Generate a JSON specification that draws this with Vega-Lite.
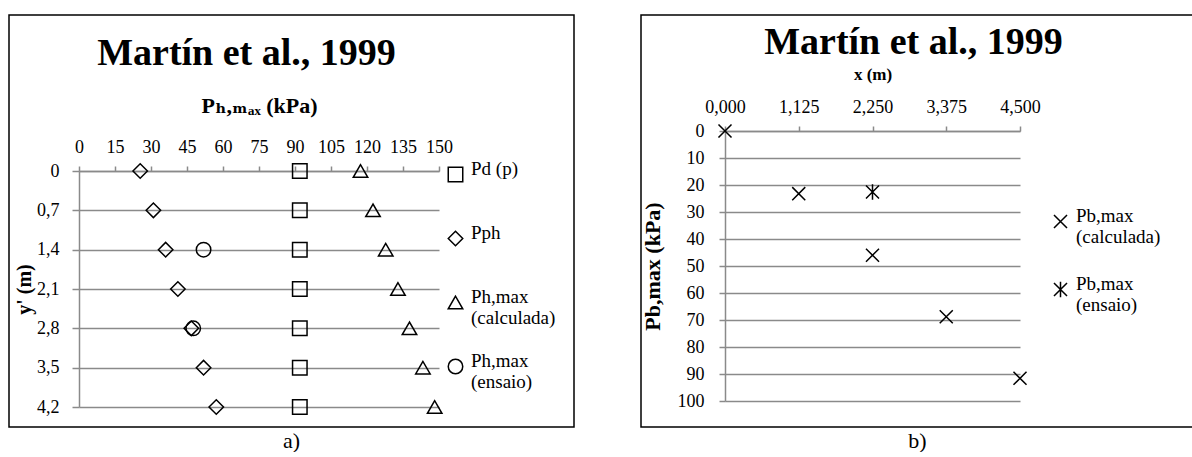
{
  "$schema": "https://vega.github.io/schema/vega-lite/v6.json",
  "background": "white",
  "padding": {"left": 8, "top": 14, "right": 0, "bottom": 0},
  "spacing": 65,
  "resolve": {"scale": {"shape": "independent"}, "legend": {"shape": "independent"}},
  "config": {
    "font": "'Liberation Serif', 'DejaVu Serif', serif",
    "view": {"stroke": "#000000", "strokeWidth": 1.5},
    "axis": {
      "labelFont": "'Liberation Serif', 'DejaVu Serif', serif",
      "titleFont": "'Liberation Serif', 'DejaVu Serif', serif",
      "labelColor": "#000000", "titleColor": "#000000",
      "domainColor": "#8a8a8a", "tickColor": "#8a8a8a", "gridColor": "#8a8a8a",
      "domainWidth": 1.5, "tickWidth": 1.5, "gridWidth": 1.5,
      "labelFontSize": 18, "labelOverlap": false, "labelFlush": false, "labelBound": false
    },
    "legend": {"labelFont": "'Liberation Serif', 'DejaVu Serif', serif", "labelFontSize": 19, "labelColor": "#000000", "padding": 0},
    "title": {"font": "'Liberation Serif', 'DejaVu Serif', serif", "color": "#000000"}
  },
  "hconcat": [
    {
      "title": {"text": "a)", "orient": "bottom", "anchor": "middle", "fontSize": 22, "fontWeight": "normal", "offset": 3},
      "vconcat": [
        {
          "width": 565,
          "height": 412,
          "title": {"text": "Martín et al., 1999", "fontSize": 38, "fontWeight": "bold", "anchor": "middle", "frame": "group", "offset": -58, "dx": -45},
          "data": {"values": [
            {"y": 0, "v": 92, "s": "Pd (p)"},
            {"y": 0.7, "v": 92, "s": "Pd (p)"},
            {"y": 1.4, "v": 92, "s": "Pd (p)"},
            {"y": 2.1, "v": 92, "s": "Pd (p)"},
            {"y": 2.8, "v": 92, "s": "Pd (p)"},
            {"y": 3.5, "v": 92, "s": "Pd (p)"},
            {"y": 4.2, "v": 92, "s": "Pd (p)"},
            {"y": 0, "v": 25.5, "s": "Pph"},
            {"y": 0.7, "v": 31, "s": "Pph"},
            {"y": 1.4, "v": 36.1, "s": "Pph"},
            {"y": 2.1, "v": 41.2, "s": "Pph"},
            {"y": 2.8, "v": 46.8, "s": "Pph"},
            {"y": 3.5, "v": 51.9, "s": "Pph"},
            {"y": 4.2, "v": 57.2, "s": "Pph"},
            {"y": 0, "v": 117.3, "s": "Ph,max|(calculada)"},
            {"y": 0.7, "v": 122.5, "s": "Ph,max|(calculada)"},
            {"y": 1.4, "v": 127.8, "s": "Ph,max|(calculada)"},
            {"y": 2.1, "v": 132.9, "s": "Ph,max|(calculada)"},
            {"y": 2.8, "v": 137.7, "s": "Ph,max|(calculada)"},
            {"y": 3.5, "v": 143.3, "s": "Ph,max|(calculada)"},
            {"y": 4.2, "v": 148.2, "s": "Ph,max|(calculada)"},
            {"y": 1.4, "v": 51.9, "s": "Ph,max|(ensaio)"},
            {"y": 2.8, "v": 47.6, "s": "Ph,max|(ensaio)"}
          ]},
          "mark": {"type": "point", "filled": false, "stroke": "#000000", "strokeWidth": 1.5, "opacity": 1, "size": 210},
          "encoding": {
            "x": {
              "field": "v", "type": "quantitative",
              "scale": {"domain": [0, 150], "range": [70, 430], "nice": false, "zero": false},
              "axis": {
                "orient": "top", "offset": -156, "values": [0, 15, 30, 45, 60, 75, 90, 105, 120, 135, 150],
                "format": "d", "grid": false, "tickSize": 5, "labelPadding": 10,
                "title": "Pₕ,ₘₐₓ (kPa)", "titleFontSize": 22, "titleFontWeight": "bold", "titlePadding": 21
              }
            },
            "y": {
              "field": "y", "type": "quantitative",
              "scale": {"domain": [0, 4.2], "range": [156, 392], "nice": false, "zero": false},
              "axis": {
                "orient": "left", "offset": -70, "values": [0, 0.7, 1.4, 2.1, 2.8, 3.5, 4.2],
                "labelExpr": "replace(format(datum.value, '.1~f'), '.', ',')",
                "grid": true, "tickSize": 7, "labelPadding": 13,
                "title": "y' (m)", "titleFontSize": 20, "titleFontWeight": "bold", "titlePadding": 2
              }
            },
            "shape": {
              "field": "s", "type": "nominal",
              "scale": {
                "domain": ["Pd (p)", "Pph", "Ph,max|(calculada)", "Ph,max|(ensaio)"],
                "range": ["square", "diamond", "triangle-up", "circle"]
              },
              "legend": {
                "orient": "none", "legendX": 437, "legendY": 150, "title": null,
                "labelExpr": "split(datum.label, '|')",
                "symbolSize": 210, "symbolStrokeColor": "#000000", "symbolFillColor": "transparent",
                "symbolStrokeWidth": 1.5, "gridAlign": "all", "rowPadding": 23,
                "labelOffset": 6, "labelBaseline": "alphabetic", "labelLimit": 200
              }
            }
          }
        }
      ]
    },
    {
      "title": {"text": "b)", "orient": "bottom", "anchor": "middle", "fontSize": 22, "fontWeight": "normal", "offset": 3},
      "vconcat": [
        {
          "width": 553,
          "height": 412,
          "title": {"text": "Martín et al., 1999", "fontSize": 38, "fontWeight": "bold", "anchor": "middle", "frame": "group", "offset": -47, "dx": -4},
          "data": {"values": [
            {"x": 0, "p": 0, "s": "Pb,max|(calculada)"},
            {"x": 1.125, "p": 23.2, "s": "Pb,max|(calculada)"},
            {"x": 2.25, "p": 46, "s": "Pb,max|(calculada)"},
            {"x": 3.375, "p": 68.8, "s": "Pb,max|(calculada)"},
            {"x": 4.5, "p": 91.6, "s": "Pb,max|(calculada)"},
            {"x": 2.25, "p": 22.6, "s": "Pb,max|(ensaio)"}
          ]},
          "mark": {"type": "point", "filled": false, "stroke": "#000000", "strokeWidth": 1.5, "opacity": 1, "size": 170},
          "encoding": {
            "x": {
              "field": "x", "type": "quantitative",
              "scale": {"domain": [0, 4.5], "range": [84, 379], "nice": false, "zero": false},
              "axis": {
                "orient": "top", "offset": -116, "values": [0, 1.125, 2.25, 3.375, 4.5],
                "labelExpr": "replace(format(datum.value, '.3f'), '.', ',')",
                "grid": false, "tickSize": 5, "labelPadding": 10,
                "title": "x (m)", "titleFontSize": 17, "titleFontWeight": "bold", "titlePadding": 15
              }
            },
            "y": {
              "field": "p", "type": "quantitative",
              "scale": {"domain": [0, 100], "range": [116, 386], "nice": false, "zero": false},
              "axis": {
                "orient": "left", "offset": -84, "values": [0, 10, 20, 30, 40, 50, 60, 70, 80, 90, 100],
                "grid": true, "tickSize": 6, "labelPadding": 15,
                "title": "Pb,max (kPa)", "titleFontSize": 22, "titleFontWeight": "bold", "titlePadding": 13
              }
            },
            "shape": {
              "field": "s", "type": "nominal",
              "scale": {
                "domain": ["Pb,max|(calculada)", "Pb,max|(ensaio)"],
                "range": ["M-1,-1L1,1M-1,1L1,-1", "M-1,-1L1,1M-1,1L1,-1M0,-1.2L0,1.2"]
              },
              "legend": {
                "orient": "none", "legendX": 410, "legendY": 197, "title": null,
                "labelExpr": "split(datum.label, '|')",
                "symbolSize": 170, "symbolStrokeColor": "#000000", "symbolFillColor": "transparent",
                "symbolStrokeWidth": 1.5, "gridAlign": "all", "rowPadding": 27,
                "labelOffset": 6, "labelBaseline": "alphabetic", "labelLimit": 200
              }
            }
          }
        }
      ]
    }
  ]
}
